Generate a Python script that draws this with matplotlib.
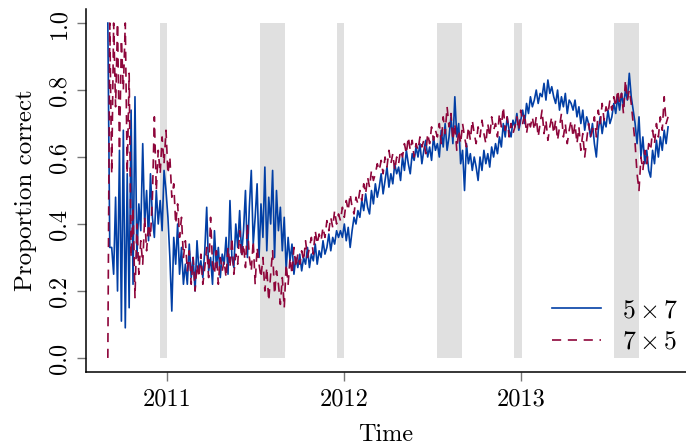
import matplotlib
matplotlib.use('Agg')
import matplotlib.pyplot as plt
import pandas as pd

plt.rcParams['font.family'] = 'serif'
plt.rcParams['font.serif'] = ['cmr10']
plt.rcParams['mathtext.fontset'] = 'cm'
plt.rcParams['axes.unicode_minus'] = False
plt.rcParams['axes.formatter.use_mathtext'] = True

# one reading every 4 days, starting 1 Sep 2010
inicio = '2010-09-01'
passo = '4D'

# 5 x 7
azul = [
    1.0, 0.33, 0.33, 0.25, 0.48, 0.20, 0.62, 0.11, 0.68, 0.09,
    0.55, 0.15, 0.74, 0.22, 0.78, 0.30, 0.46, 0.38, 0.64, 0.40,
    0.50, 0.35, 0.55, 0.42, 0.36, 0.50, 0.40, 0.47, 0.38, 0.56,
    0.50, 0.42, 0.30, 0.14, 0.36, 0.28, 0.40, 0.25, 0.33, 0.22,
    0.28, 0.22, 0.34, 0.24, 0.30, 0.20, 0.35, 0.26, 0.29, 0.24,
    0.32, 0.45, 0.26, 0.30, 0.22, 0.38, 0.27, 0.33, 0.24, 0.31,
    0.28, 0.36, 0.25, 0.47, 0.30, 0.27, 0.40, 0.33, 0.44, 0.31,
    0.38, 0.50, 0.30, 0.45, 0.56, 0.34, 0.42, 0.52, 0.30, 0.46,
    0.36, 0.57, 0.32, 0.48, 0.40, 0.56, 0.30, 0.50, 0.38, 0.45,
    0.32, 0.42, 0.26, 0.36, 0.29, 0.34, 0.25, 0.30, 0.27, 0.31,
    0.26, 0.30, 0.28, 0.33, 0.27, 0.31, 0.29, 0.34, 0.28, 0.32,
    0.30, 0.35, 0.31, 0.33, 0.37, 0.32, 0.36, 0.34, 0.38, 0.36,
    0.38, 0.36, 0.40, 0.35, 0.39, 0.33, 0.38, 0.42, 0.40, 0.44,
    0.42, 0.47, 0.44, 0.49, 0.45, 0.43, 0.50, 0.46, 0.52, 0.48,
    0.51, 0.55, 0.49, 0.53, 0.57, 0.51, 0.55, 0.52, 0.58, 0.55,
    0.57, 0.53, 0.60, 0.56, 0.62, 0.58, 0.55, 0.61, 0.59, 0.63,
    0.60, 0.64, 0.58, 0.62, 0.65, 0.60, 0.63, 0.59, 0.66, 0.62,
    0.64, 0.60, 0.68, 0.63, 0.70, 0.62, 0.66, 0.72, 0.64, 0.78,
    0.66, 0.70, 0.58, 0.62, 0.50, 0.64, 0.58, 0.61, 0.56, 0.60,
    0.57, 0.53, 0.60, 0.56, 0.62, 0.58, 0.61, 0.57, 0.63, 0.60,
    0.64, 0.61, 0.66, 0.63, 0.70, 0.66, 0.72, 0.68, 0.66, 0.71,
    0.69, 0.73, 0.68, 0.71, 0.74, 0.70, 0.76, 0.73, 0.78, 0.75,
    0.77, 0.80, 0.76, 0.79, 0.78, 0.82, 0.77, 0.83, 0.79, 0.81,
    0.78, 0.76, 0.80, 0.74, 0.78, 0.75, 0.79, 0.73, 0.77, 0.76,
    0.74, 0.77, 0.72, 0.75, 0.70, 0.74, 0.68, 0.72, 0.70, 0.66,
    0.70, 0.64, 0.60, 0.68, 0.72, 0.67, 0.71, 0.69, 0.74, 0.70,
    0.72, 0.76, 0.73, 0.78, 0.74, 0.79, 0.75, 0.80, 0.77, 0.85,
    0.78, 0.74, 0.70, 0.64, 0.72, 0.60, 0.66, 0.58, 0.62, 0.56,
    0.54, 0.62, 0.58, 0.65, 0.60, 0.66, 0.62, 0.68, 0.64, 0.69,
]

# 7 x 5
vermelho = [
    0.0, 1.0, 0.55, 1.0, 0.75, 1.0, 0.62, 0.95, 0.80, 1.0,
    0.55, 0.85, 0.30, 0.45, 0.18, 0.40, 0.25, 0.35, 0.28, 0.42,
    0.32, 0.40, 0.36, 0.48, 0.72, 0.50, 0.62, 0.55, 0.66, 0.58,
    0.68, 0.55, 0.60, 0.48, 0.52, 0.40, 0.46, 0.36, 0.42, 0.30,
    0.35, 0.26, 0.32, 0.22, 0.30, 0.20, 0.28, 0.24, 0.31, 0.22,
    0.27, 0.33, 0.24, 0.42, 0.28, 0.25, 0.32, 0.22, 0.30, 0.26,
    0.29, 0.24, 0.33, 0.27, 0.36, 0.25, 0.31, 0.28, 0.38, 0.30,
    0.34, 0.27, 0.40, 0.30, 0.26, 0.35, 0.22, 0.33, 0.28, 0.24,
    0.30, 0.20, 0.27, 0.17, 0.25, 0.32, 0.19, 0.26, 0.22, 0.16,
    0.24, 0.15, 0.28, 0.22, 0.30, 0.25, 0.33, 0.27, 0.31, 0.28,
    0.32, 0.29, 0.35, 0.30, 0.33, 0.36, 0.31, 0.38, 0.34, 0.37,
    0.35, 0.39, 0.36, 0.41, 0.38, 0.42, 0.39, 0.44, 0.40, 0.43,
    0.41, 0.45, 0.42, 0.47, 0.44, 0.49, 0.45, 0.43, 0.48, 0.46,
    0.50, 0.47, 0.52, 0.49, 0.54, 0.51, 0.56, 0.53, 0.55, 0.58,
    0.56, 0.59, 0.55, 0.60, 0.57, 0.62, 0.58, 0.61, 0.56, 0.60,
    0.58, 0.62, 0.60, 0.64, 0.61, 0.66, 0.62, 0.65, 0.60, 0.64,
    0.62, 0.66, 0.63, 0.65, 0.61, 0.67, 0.64, 0.69, 0.65, 0.68,
    0.66, 0.70, 0.64, 0.72, 0.67, 0.75, 0.69, 0.73, 0.65, 0.70,
    0.62, 0.68, 0.64, 0.70, 0.66, 0.63, 0.69, 0.65, 0.71, 0.67,
    0.64, 0.69, 0.66, 0.71, 0.67, 0.64, 0.70, 0.66, 0.72, 0.68,
    0.70, 0.66, 0.73, 0.69, 0.75, 0.68, 0.72, 0.66, 0.70, 0.67,
    0.69, 0.72, 0.68, 0.74, 0.70, 0.73, 0.67, 0.71, 0.69, 0.72,
    0.68, 0.72, 0.66, 0.70, 0.74, 0.67, 0.71, 0.65, 0.69, 0.72,
    0.67, 0.71, 0.65, 0.69, 0.73, 0.66, 0.70, 0.64, 0.68, 0.71,
    0.66, 0.70, 0.64, 0.69, 0.62, 0.67, 0.60, 0.65, 0.70, 0.66,
    0.68, 0.72, 0.66, 0.74, 0.70, 0.76, 0.71, 0.75, 0.73, 0.77,
    0.74, 0.78, 0.75, 0.80, 0.76, 0.79, 0.73, 0.83, 0.77, 0.80,
    0.76, 0.70, 0.64, 0.55, 0.50, 0.60, 0.56, 0.62, 0.58, 0.64,
    0.62, 0.68, 0.64, 0.70, 0.66, 0.72, 0.68, 0.78, 0.70, 0.72,
]

# school holidays shaded in grey
feriasInicio = ['2010-12-17', '2011-07-12', '2011-12-17', '2012-07-12', '2012-12-17', '2013-07-12']
feriasFim = ['2011-01-02', '2011-09-01', '2012-01-02', '2012-09-01', '2013-01-02', '2013-09-01']

anos = ['2011-01-01', '2012-01-01', '2013-01-01']
anosTexto = ['2011', '2012', '2013']

datasAzul = pd.date_range(inicio, periods=len(azul), freq=passo)
datasVermelho = pd.date_range(inicio, periods=len(vermelho), freq=passo)

fig = plt.figure(figsize=(6.86, 4.46), dpi=100)
ax = fig.add_axes([0.1254, 0.1659, 0.8746, 0.8139])

for i in range(0, len(feriasInicio)):
    ax.fill_between([pd.Timestamp(feriasInicio[i]), pd.Timestamp(feriasFim[i])], 0, 1,
                    color='#e0e0e0', linewidth=0, zorder=0)

ax.plot(datasAzul, azul, color='#023FA5', linewidth=1.2, label=r'$5 \times 7$', zorder=2)
ax.plot(datasVermelho, vermelho, color='#8E063B', linewidth=1.2, dashes=(5.5, 4),
        label=r'$7 \times 5$', zorder=3)

ax.set_xlim(pd.Timestamp('2010-07-18'), pd.Timestamp('2013-12-07'))
ax.set_ylim(-0.042, 1.042)

ax.set_xticks([pd.Timestamp(a) for a in anos])
ax.set_xticklabels(anosTexto)
ax.set_yticks([0.0, 0.2, 0.4, 0.6, 0.8, 1.0])
ax.set_yticklabels(['0.0', '0.2', '0.4', '0.6', '0.8', '1.0'], rotation=90, va='center')

ax.spines['top'].set_visible(False)
ax.spines['right'].set_visible(False)
ax.spines['left'].set_linewidth(1.1)
ax.spines['bottom'].set_linewidth(1.1)
ax.tick_params(axis='both', colors='#777777', labelcolor='black', length=6.5, width=1.0,
               labelsize=17.5, pad=5)

ax.set_xlabel('Time', fontsize=17.5, labelpad=10)
ax.set_ylabel('Proportion correct', fontsize=18, labelpad=8)

leg = ax.legend(loc='lower right', bbox_to_anchor=(0.988, 0.05), frameon=False, fontsize=18.5,
                handlelength=1.9, handletextpad=0.85, labelspacing=0.3, borderpad=0,
                borderaxespad=0)

fig.savefig('out.png', dpi=100)
